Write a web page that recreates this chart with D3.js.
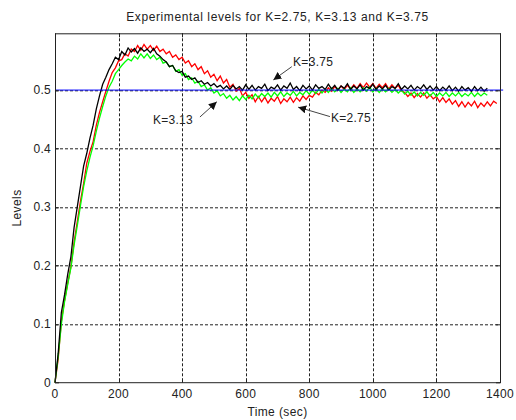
<!DOCTYPE html>
<html>
<head>
<meta charset="utf-8">
<script src="https://cdn.jsdelivr.net/npm/d3@7"></script>
<style>
  body { margin: 0; background: #fff; }
  text { font-family: "Liberation Sans", Arial, sans-serif; fill: #222; }
</style>
</head>
<body>
<div id="chart"></div>
<script>
/* Experimental levels, sampled every 10 sec
 * */
var sampleStep = 10;

// K=3.75 (black), t = 0 .. 1360
var levelsK375 = [
  0.000,0.050,0.120,0.150,0.185,0.215,0.265,0.300,0.335,0.370,
  0.392,0.418,0.440,0.468,0.490,0.510,0.522,0.535,0.545,0.556,
  0.552,0.566,0.560,0.572,0.565,0.571,0.563,0.572,0.566,0.570,
  0.564,0.571,0.562,0.558,0.552,0.548,0.540,0.542,0.533,0.530,
  0.532,0.522,0.524,0.518,0.521,0.513,0.516,0.510,0.513,0.507,
  0.511,0.505,0.508,0.502,0.507,0.501,0.508,0.502,0.506,0.500,
  0.509,0.501,0.508,0.500,0.506,0.503,0.510,0.499,0.505,0.502,
  0.509,0.500,0.507,0.503,0.512,0.501,0.506,0.499,0.508,0.502,
  0.507,0.500,0.509,0.503,0.506,0.501,0.510,0.502,0.508,0.500,
  0.507,0.503,0.511,0.501,0.507,0.502,0.509,0.500,0.506,0.503,
  0.510,0.501,0.507,0.502,0.508,0.500,0.506,0.503,0.511,0.501,
  0.507,0.502,0.508,0.500,0.506,0.502,0.509,0.501,0.507,0.500,
  0.506,0.499,0.505,0.500,0.507,0.499,0.505,0.498,0.506,0.500,
  0.504,0.498,0.506,0.499,0.505,0.498,0.503
];

// K=2.75 (red), t = 0 .. 1390
var levelsK275 = [
  0.000,0.040,0.105,0.140,0.170,0.198,0.240,0.275,0.310,0.340,
  0.375,0.395,0.412,0.440,0.462,0.480,0.498,0.515,0.530,0.538,
  0.550,0.552,0.562,0.558,0.570,0.566,0.576,0.568,0.578,0.570,
  0.576,0.568,0.575,0.566,0.570,0.562,0.566,0.556,0.560,0.552,
  0.556,0.546,0.550,0.540,0.545,0.535,0.540,0.528,0.533,0.522,
  0.527,0.516,0.524,0.512,0.518,0.505,0.510,0.498,0.503,0.490,
  0.496,0.486,0.492,0.480,0.489,0.480,0.488,0.478,0.486,0.481,
  0.489,0.477,0.485,0.480,0.488,0.479,0.487,0.481,0.490,0.484,
  0.491,0.488,0.496,0.492,0.500,0.496,0.504,0.498,0.506,0.500,
  0.507,0.501,0.508,0.502,0.509,0.503,0.511,0.504,0.512,0.505,
  0.511,0.503,0.510,0.504,0.511,0.502,0.509,0.503,0.508,0.499,
  0.496,0.489,0.495,0.487,0.494,0.488,0.495,0.486,0.492,0.485,
  0.489,0.480,0.487,0.479,0.485,0.476,0.482,0.472,0.480,0.471,
  0.479,0.473,0.481,0.470,0.478,0.472,0.480,0.473,0.481,0.477
];

// K=3.13 (green), t = 0 .. 1360
var levelsK313 = [
  0.000,0.045,0.100,0.138,0.168,0.196,0.235,0.268,0.302,0.335,
  0.362,0.385,0.405,0.430,0.452,0.472,0.490,0.505,0.515,0.528,
  0.535,0.542,0.548,0.553,0.550,0.558,0.553,0.562,0.555,0.562,
  0.554,0.560,0.552,0.556,0.546,0.548,0.540,0.542,0.532,0.535,
  0.525,0.528,0.518,0.521,0.512,0.515,0.506,0.509,0.500,0.504,
  0.495,0.499,0.490,0.494,0.486,0.491,0.483,0.489,0.482,0.490,
  0.484,0.491,0.485,0.493,0.487,0.494,0.489,0.495,0.488,0.496,
  0.490,0.497,0.489,0.495,0.491,0.498,0.490,0.496,0.492,0.499,
  0.493,0.500,0.494,0.501,0.495,0.502,0.496,0.503,0.497,0.503,
  0.496,0.502,0.497,0.504,0.496,0.502,0.497,0.504,0.498,0.505,
  0.497,0.503,0.496,0.502,0.497,0.503,0.496,0.501,0.495,0.500,
  0.493,0.498,0.491,0.497,0.490,0.496,0.491,0.497,0.490,0.496,
  0.489,0.495,0.490,0.496,0.489,0.495,0.490,0.496,0.489,0.494,
  0.490,0.496,0.489,0.495,0.490,0.495,0.491
];

// Set point
var setPoint = 0.5;

// Ticks
var xTicks = [0, 200, 400, 600, 800, 1000, 1200, 1400];
var yTicks = [0, 0.1, 0.2, 0.3, 0.4, 0.5];

// Annotations: text anchor point and arrow (tail -> head), in data units
var annLabels = ['K=3.75', 'K=3.13', 'K=2.75'];
var annText   = [[749, 0.541], [308, 0.442], [868, 0.4456]];
var annTail   = [[745, 0.540], [456, 0.454], [865, 0.4547]];
var annHead   = [[687, 0.5174], [509, 0.480], [765, 0.4708]];

/* Layout
 * */
var width = 516, height = 420;
var margin = {left: 55, right: 16, top: 33.3, bottom: 37.3};
var plotW = width - margin.left - margin.right;
var plotH = height - margin.top - margin.bottom;

var x = d3.scaleLinear().domain([0, 1400]).range([0, plotW]);
var y = d3.scaleLinear().domain([0, 0.597]).range([plotH, 0]);

var svg = d3.select('#chart').append('svg')
    .attr('width', width)
    .attr('height', height);

var defs = svg.append('defs');
defs.append('marker')
    .attr('id', 'head')
    .attr('viewBox', '0 0 10 10')
    .attr('refX', 10).attr('refY', 5)
    .attr('markerWidth', 8).attr('markerHeight', 8)
    .attr('markerUnits', 'userSpaceOnUse')
    .attr('orient', 'auto')
  .append('path')
    .attr('d', 'M0,0 L10,5 L0,10 Z')
    .attr('fill', '#111');

// Title
svg.append('text')
    .attr('x', margin.left + plotW / 2)
    .attr('y', 21)
    .attr('text-anchor', 'middle')
    .attr('font-size', 12)
    .attr('letter-spacing', 0.6)
    .text('Experimental levels for K=2.75, K=3.13 and K=3.75');

var g = svg.append('g')
    .attr('transform', 'translate(' + margin.left + ',' + margin.top + ')');

// Grid
g.append('g').selectAll('line')
    .data(xTicks.slice(1, -1))
    .enter().append('line')
      .attr('x1', function(d) { return Math.round(x(d)) + 0.5; })
      .attr('x2', function(d) { return Math.round(x(d)) + 0.5; })
      .attr('y1', 0).attr('y2', plotH)
      .attr('stroke', '#222')
      .attr('stroke-dasharray', '3,2');
g.append('g').selectAll('line')
    .data(yTicks.slice(1))
    .enter().append('line')
      .attr('y1', function(d) { return Math.round(y(d)) + 0.5; })
      .attr('y2', function(d) { return Math.round(y(d)) + 0.5; })
      .attr('x1', 0).attr('x2', plotW)
      .attr('stroke', '#222')
      .attr('stroke-dasharray', '3,2');

// Series
function toPoints(arr) {
  return arr.map(function(v, i) { return [i * sampleStep, v]; });
}
var line = d3.line()
    .x(function(d) { return x(d[0]); })
    .y(function(d) { return y(d[1]); });

var series = [
  {vals: levelsK275, color: '#ff0000'},
  {vals: levelsK313, color: '#00ff00'},
  {vals: levelsK375, color: '#000000'}
];
g.append('g').selectAll('path')
    .data(series)
    .enter().append('path')
      .attr('d', function(s) { return line(toPoints(s.vals)); })
      .attr('fill', 'none')
      .attr('stroke', function(s) { return s.color; })
      .attr('stroke-width', 1.3);

// Set point line
g.append('line')
    .attr('x1', x(0)).attr('x2', x(1410))
    .attr('y1', y(setPoint)).attr('y2', y(setPoint))
    .attr('stroke', '#0000ff')
    .attr('stroke-width', 1);

// Axes box
g.append('rect')
    .attr('x', 0.5).attr('y', 0.5)
    .attr('width', plotW).attr('height', plotH - 0.5)
    .attr('fill', 'none')
    .attr('stroke', '#222');

// Inward ticks
var tickLen = 4;
xTicks.forEach(function(t) {
  var px = Math.round(x(t)) + 0.5;
  g.append('line').attr('x1', px).attr('x2', px).attr('y1', plotH).attr('y2', plotH - tickLen).attr('stroke', '#222');
  g.append('line').attr('x1', px).attr('x2', px).attr('y1', 0).attr('y2', tickLen).attr('stroke', '#222');
});
yTicks.forEach(function(t) {
  var py = Math.round(y(t)) + 0.5;
  g.append('line').attr('x1', 0).attr('x2', tickLen).attr('y1', py).attr('y2', py).attr('stroke', '#222');
  g.append('line').attr('x1', plotW - tickLen).attr('x2', plotW).attr('y1', py).attr('y2', py).attr('stroke', '#222');
});

// Tick labels
g.append('g').selectAll('text')
    .data(xTicks)
    .enter().append('text')
      .attr('x', function(d) { return x(d); })
      .attr('y', plotH + 15)
      .attr('text-anchor', 'middle')
      .attr('font-size', 12)
      .attr('letter-spacing', 0.3)
      .text(function(d) { return d; });
g.append('g').selectAll('text')
    .data(yTicks)
    .enter().append('text')
      .attr('x', -4)
      .attr('y', function(d) { return y(d) + 4; })
      .attr('text-anchor', 'end')
      .attr('font-size', 12)
      .attr('letter-spacing', 0.3)
      .text(function(d) { return d; });

// Axis labels
svg.append('text')
    .attr('x', margin.left + plotW / 2)
    .attr('y', 416)
    .attr('text-anchor', 'middle')
    .attr('font-size', 12)
    .attr('letter-spacing', 0.4)
    .text('Time (sec)');
svg.append('text')
    .attr('transform', 'translate(21,' + (margin.top + plotH / 2) + ') rotate(-90)')
    .attr('text-anchor', 'middle')
    .attr('font-size', 12)
    .attr('letter-spacing', 0.4)
    .text('Levels');

// Annotations
annLabels.forEach(function(label, i) {
  g.append('line')
      .attr('x1', x(annTail[i][0])).attr('y1', y(annTail[i][1]))
      .attr('x2', x(annHead[i][0])).attr('y2', y(annHead[i][1]))
      .attr('stroke', '#444')
      .attr('stroke-width', 1)
      .attr('marker-end', 'url(#head)');
  g.append('text')
      .attr('x', x(annText[i][0]))
      .attr('y', y(annText[i][1]))
      .attr('font-size', 12)
      .attr('letter-spacing', 0.3)
      .text(label);
});
</script>
</body>
</html>
